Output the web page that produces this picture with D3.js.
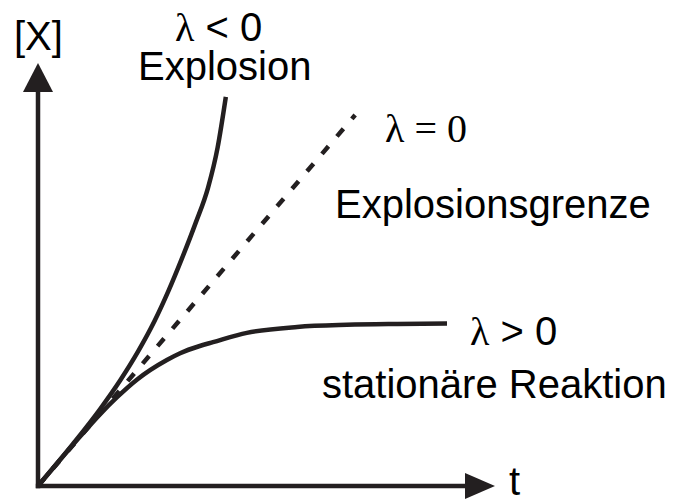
<!DOCTYPE html>
<html>
<head>
<meta charset="utf-8">
<script src="https://cdn.jsdelivr.net/npm/d3@7"></script>
<style>
  html, body { margin: 0; padding: 0; background: #fff; }
  svg { display: block; }
  .sans { font-family: "Liberation Sans", Arial, sans-serif; }
  .serif { font-family: "Liberation Serif", "Times New Roman", serif; }
</style>
</head>
<body>
<svg id="chart" width="678" height="499"></svg>
<script>
// Time axis values (arbitrary units) and concentration [X] for each regime
const tExplosion = [0, 0.77, 1.36, 1.80, 2.20, 2.55, 2.85, 3.15, 3.45, 3.72, 3.93, 4.11];
const xExplosion = [0, 1.00, 1.82, 2.50, 3.20, 3.90, 4.60, 5.38, 6.22, 7.05, 8.00, 9.20];

const tGrenze = [0, 6.94];
const xGrenze = [0, 8.77];

const tStationaer = [0, 0.77, 1.36, 1.73, 2.17, 2.82, 3.11, 3.54, 3.83, 4.57, 5.67, 6.76, 7.86, 8.95];
const xStationaer = [0, 0.98, 1.70, 2.10, 2.52, 2.98, 3.14, 3.31, 3.40, 3.62, 3.76, 3.81, 3.83, 3.84];

const axisLabels = { x: "t", y: "[X]" };

const ink = "#231f20";
const svg = d3.select("#chart");

const x = d3.scaleLinear().domain([0, 10]).range([38, 495]);
const y = d3.scaleLinear().domain([0, 10]).range([486, 63]);

const line = d3.line()
  .x(d => x(d[0]))
  .y(d => y(d[1]))
  .curve(d3.curveMonotoneX);

const zip = (a, b) => a.map((v, i) => [v, b[i]]);

// Axes with filled arrowheads
const arrowLen = 30, arrowHalf = 14;
const x0 = x(0), y0 = y(0), xEnd = x(10), yEnd = y(10);

svg.append("line")
  .attr("x1", x0 - 2.2).attr("y1", y0)
  .attr("x2", xEnd - arrowLen + 1).attr("y2", y0)
  .attr("stroke", ink).attr("stroke-width", 4.5);
svg.append("line")
  .attr("x1", x0).attr("y1", y0 + 2.2)
  .attr("x2", x0).attr("y2", yEnd + arrowLen - 1)
  .attr("stroke", ink).attr("stroke-width", 4.5);

svg.append("path")
  .attr("d", `M${xEnd},${y0} L${xEnd - arrowLen},${y0 - arrowHalf + 1} L${xEnd - arrowLen},${y0 + arrowHalf - 1} Z`)
  .attr("fill", ink);
svg.append("path")
  .attr("d", `M${x0},${yEnd} L${x0 - arrowHalf - 1},${yEnd + arrowLen - 1} L${x0 + arrowHalf + 1},${yEnd + arrowLen - 1} Z`)
  .attr("fill", ink);

// Curves
svg.append("path")
  .datum(zip(tGrenze, xGrenze))
  .attr("d", line)
  .attr("fill", "none")
  .attr("stroke", ink)
  .attr("stroke-width", 4.5)
  .attr("stroke-dasharray", "10,13");

svg.append("path")
  .datum(zip(tStationaer, xStationaer))
  .attr("d", line)
  .attr("fill", "none")
  .attr("stroke", ink)
  .attr("stroke-width", 4.5);

svg.append("path")
  .datum(zip(tExplosion, xExplosion))
  .attr("d", line)
  .attr("fill", "none")
  .attr("stroke", ink)
  .attr("stroke-width", 4.5);

// Text labels
const fs = 40;

svg.append("text").attr("class", "sans")
  .attr("x", 14).attr("y", 50).attr("font-size", fs).attr("fill", "#000")
  .text(axisLabels.y);

svg.append("text").attr("class", "sans")
  .attr("x", 509).attr("y", 495).attr("font-size", fs).attr("fill", "#000")
  .text(axisLabels.x);

// λ < 0 / Explosion
const t1 = svg.append("text").attr("x", 175).attr("y", 41).attr("font-size", fs).attr("fill", "#000");
t1.append("tspan").attr("class", "serif").text("λ");
t1.append("tspan").attr("class", "sans").text(" < 0");

svg.append("text").attr("class", "sans")
  .attr("x", 138).attr("y", 80).attr("font-size", fs).attr("fill", "#000")
  .text("Explosion");

// λ = 0 / Explosionsgrenze
svg.append("text").attr("class", "serif")
  .attr("x", 385).attr("y", 142).attr("font-size", fs).attr("fill", "#000")
  .text("λ = 0");

svg.append("text").attr("class", "sans")
  .attr("x", 335).attr("y", 218).attr("font-size", fs).attr("fill", "#000")
  .text("Explosionsgrenze");

// λ > 0 / stationäre Reaktion
const t3 = svg.append("text").attr("x", 470).attr("y", 345).attr("font-size", fs).attr("fill", "#000");
t3.append("tspan").attr("class", "serif").text("λ");
t3.append("tspan").attr("class", "sans").text(" > 0");

svg.append("text").attr("class", "sans")
  .attr("x", 322).attr("y", 398).attr("font-size", fs).attr("fill", "#000")
  .text("stationäre Reaktion");
</script>
</body>
</html>
